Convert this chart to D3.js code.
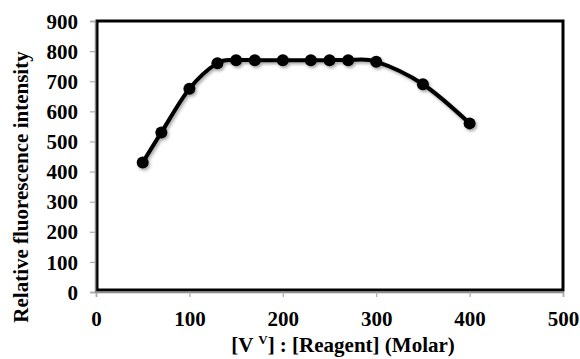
<!DOCTYPE html>
<html><head><meta charset="utf-8">
<script src="https://cdn.jsdelivr.net/npm/d3@7"></script>
<style>body{margin:0;background:#fff;} svg{display:block;} svg text{font-family:"Liberation Serif","Times New Roman","DejaVu Serif",serif !important;font-weight:bold;}</style>
</head><body>
<svg id="c" width="580" height="359"></svg>
<script>
const xValues = [50, 70, 100, 130, 150, 170, 200, 230, 250, 270, 300, 350, 400];
const yValues = [430, 530, 675, 760, 770, 770, 770, 770, 770, 770, 765, 690, 560];
const xTicks = [0, 100, 200, 300, 400, 500];
const yTicks = [0, 100, 200, 300, 400, 500, 600, 700, 800, 900];
const xTitle = "[V ";
const xTitleSup = "V";
const xTitleRest = "] : [Reagent] (Molar)";
const yTitle = "Relative fluorescence intensity";

const FONT = "Liberation Serif, Times New Roman, serif";
const svg = d3.select("#c");
const L = 96, R = 563, T = 21, B = 292;
const x = d3.scaleLinear().domain([0, 500]).range([L, R]);
const y = d3.scaleLinear().domain([0, 900]).range([B, T]);

const defs = svg.append("defs");
const f = defs.append("filter").attr("id","sh").attr("x","-50%").attr("y","-50%").attr("width","200%").attr("height","200%");
f.append("feDropShadow").attr("dx",1.5).attr("dy",2).attr("stdDeviation",1.5).attr("flood-color","#000").attr("flood-opacity",0.35);

// frame (black)
svg.append("rect").attr("x", L+1).attr("y", T).attr("width", R-L-1).attr("height", B-T-2)
  .attr("fill","none").attr("stroke","#000").attr("stroke-width",3);

// axes (gray)
const xAxis = d3.axisBottom(x).tickValues(xTicks).tickSize(5).tickFormat(d3.format("d"));
const gx = svg.append("g").attr("transform",`translate(0,${B})`).call(xAxis)
  .attr("font-family", FONT).attr("font-size", 21).attr("font-weight","bold");
gx.select(".domain").attr("stroke","#888").attr("stroke-width",1.5);
gx.selectAll(".tick line").attr("stroke","#aaa").attr("stroke-width",1.2);
gx.selectAll("text").attr("fill","#000").attr("y", 8).attr("dy", 26);

const yAxis = d3.axisLeft(y).tickValues(yTicks).tickSize(5).tickFormat(d3.format("d"));
const gy = svg.append("g").attr("transform",`translate(${L-1},0)`).call(yAxis)
  .attr("font-family", FONT).attr("font-size", 21).attr("font-weight","bold");
gy.select(".domain").attr("stroke","#888").attr("stroke-width",1.5);
gy.selectAll(".tick line").attr("stroke","#aaa").attr("stroke-width",1.2);
gy.selectAll("text").attr("fill","#000").attr("x",-17).attr("dy","0.34em");

// line
const pts = xValues.map((v,i)=>[v, yValues[i]]);
const line = d3.line().x(d=>x(d[0])).y(d=>y(d[1])).curve(d3.curveCatmullRom.alpha(0));
const g = svg.append("g").attr("filter","url(#sh)");
g.append("path").datum(pts).attr("d", line).attr("fill","none").attr("stroke","#000").attr("stroke-width",4);
g.selectAll("circle").data(pts).enter().append("circle")
  .attr("cx",d=>x(d[0])).attr("cy",d=>y(d[1])).attr("r",6).attr("fill","#000");

// titles
const xt = svg.append("text").attr("x", 343).attr("y", 352).attr("text-anchor","middle")
  .attr("font-size",21).attr("fill","#000");
xt.append("tspan").text(xTitle);
xt.append("tspan").attr("font-size",13).attr("dy",-8).text(xTitleSup);
xt.append("tspan").attr("dy",8).text(xTitleRest);

svg.append("text").attr("transform","translate(28,187) rotate(-90)").attr("text-anchor","middle")
  .attr("font-size",21).attr("fill","#000").text(yTitle);
</script>
</body></html>
